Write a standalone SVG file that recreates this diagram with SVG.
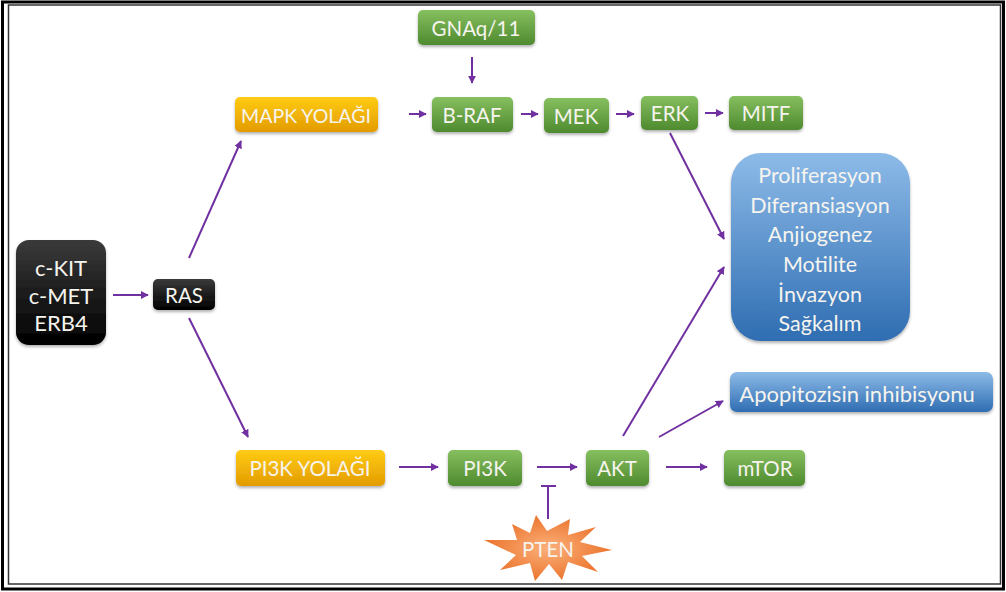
<svg xmlns="http://www.w3.org/2000/svg" width="1006" height="592" viewBox="0 0 1006 592">
<style>
.t{font-family:Lato,"Open Sans","Liberation Sans",sans-serif;fill:#f6f4ee;text-anchor:middle;dominant-baseline:central}
.s18{font-size:20.5px}
.s20{font-size:21.5px}
.s22{font-size:22px}
.c{stroke:#7030a0;stroke-width:2;fill:none}
</style>
<defs>
<linearGradient id="gGreen" x1="0" y1="0" x2="0" y2="1"><stop offset="0" stop-color="#86bf5f"/><stop offset="1" stop-color="#4e8a2f"/></linearGradient>
<linearGradient id="gYel" x1="0" y1="0" x2="0" y2="1"><stop offset="0" stop-color="#ffcc14"/><stop offset="1" stop-color="#e39b00"/></linearGradient>
<linearGradient id="gBlk" x1="0" y1="0" x2="0" y2="1"><stop offset="0" stop-color="#3a3a3a"/><stop offset="1" stop-color="#000"/></linearGradient>
<linearGradient id="gBlue" x1="0" y1="0" x2="0" y2="1"><stop offset="0" stop-color="#8dbbe8"/><stop offset="1" stop-color="#2f6db2"/></linearGradient>
<radialGradient id="gOr" cx="0.5" cy="0.5" r="0.6"><stop offset="0" stop-color="#fbb07a"/><stop offset="1" stop-color="#e8691f"/></radialGradient>
<filter id="sh" x="-10%" y="-10%" width="120%" height="130%"><feDropShadow dx="0" dy="2" stdDeviation="1.5" flood-color="#000" flood-opacity="0.3"/></filter>
<marker id="ar" viewBox="0 0 10 10" refX="9" refY="5" markerWidth="4" markerHeight="4" orient="auto" markerUnits="strokeWidth"><path d="M0,0 L10,5 L0,10 z" fill="#7030a0"/></marker>
</defs>
<rect x="0" y="0" width="1006" height="592" fill="#fff"/>
<rect x="2.5" y="2" width="1001" height="587" fill="none" stroke="#000" stroke-width="3"/>
<rect x="8.5" y="5" width="992" height="579" fill="none" stroke="#333" stroke-width="1.5"/>

<g id="connectors">
<line class="c" x1="113" y1="295" x2="148" y2="295" marker-end="url(#ar)"/>
<line class="c" x1="189" y1="258" x2="241" y2="141" marker-end="url(#ar)"/>
<line class="c" x1="189" y1="318" x2="248" y2="437" marker-end="url(#ar)"/>
<line class="c" x1="472" y1="57" x2="472" y2="83" marker-end="url(#ar)"/>
<line class="c" x1="409" y1="114" x2="426" y2="114" marker-end="url(#ar)"/>
<line class="c" x1="521" y1="114" x2="538" y2="114" marker-end="url(#ar)"/>
<line class="c" x1="616" y1="114" x2="634" y2="114" marker-end="url(#ar)"/>
<line class="c" x1="705" y1="113" x2="723" y2="113" marker-end="url(#ar)"/>
<line class="c" x1="670" y1="133" x2="724" y2="239" marker-end="url(#ar)"/>
<line class="c" x1="623" y1="436" x2="724" y2="267" marker-end="url(#ar)"/>
<line class="c" x1="659" y1="437" x2="723" y2="401" marker-end="url(#ar)"/>
<line class="c" x1="399" y1="467" x2="438" y2="467" marker-end="url(#ar)"/>
<line class="c" x1="537" y1="467" x2="577" y2="467" marker-end="url(#ar)"/>
<line class="c" x1="666" y1="467" x2="707" y2="467" marker-end="url(#ar)"/>
<line class="c" x1="548" y1="519" x2="548" y2="486"/>
<line class="c" x1="541" y1="486" x2="556" y2="486"/>
</g>

<g id="n-ckit"><rect x="16" y="240" width="90" height="105" rx="13" fill="url(#gBlk)" filter="url(#sh)"/>
<text class="t s22" x="61" y="267">c-KIT</text><text class="t s22" x="61" y="295">c-MET</text><text class="t s22" x="61" y="322">ERB4</text></g>
<g id="n-ras"><rect x="153" y="279" width="62" height="31" rx="5" fill="url(#gBlk)" filter="url(#sh)"/><text class="t s18" x="184" y="295">RAS</text></g>

<g id="n-gnaq"><rect x="418" y="10" width="117" height="35" rx="5" fill="url(#gGreen)" filter="url(#sh)"/><text class="t s18" x="476" y="28">GNAq/11</text></g>
<g id="n-mapk"><rect x="235" y="97" width="143" height="35" rx="5" fill="url(#gYel)" filter="url(#sh)"/><text class="t" style="font-size:19.5px" x="306" y="115">MAPK YOLAĞI</text></g>
<g id="n-braf"><rect x="432" y="97" width="81" height="35" rx="5" fill="url(#gGreen)" filter="url(#sh)"/><text class="t s18" x="472" y="115">B-RAF</text></g>
<g id="n-mek"><rect x="544" y="98" width="65" height="35" rx="5" fill="url(#gGreen)" filter="url(#sh)"/><text class="t s18" x="576" y="116">MEK</text></g>
<g id="n-erk"><rect x="641" y="96" width="57" height="34" rx="5" fill="url(#gGreen)" filter="url(#sh)"/><text class="t s18" x="670" y="113">ERK</text></g>
<g id="n-mitf"><rect x="729" y="96" width="74" height="34" rx="5" fill="url(#gGreen)" filter="url(#sh)"/><text class="t s18" x="766" y="113">MITF</text></g>

<g id="n-effects"><rect x="731" y="153" width="179" height="188" rx="30" fill="url(#gBlue)" filter="url(#sh)"/>
<text class="t s20" x="820" y="175">Proliferasyon</text>
<text class="t s20" x="820" y="205">Diferansiasyon</text>
<text class="t s20" x="820" y="234">Anjiogenez</text>
<text class="t s20" x="820" y="264">Motilite</text>
<text class="t s20" x="820" y="294">İnvazyon</text>
<text class="t s20" x="820" y="323">Sağkalım</text></g>
<g id="n-apop"><rect x="730" y="372" width="263" height="40" rx="7" fill="url(#gBlue)" filter="url(#sh)"/><text class="t s22" x="857" y="393">Apopitozisin inhibisyonu</text></g>

<g id="n-pi3ky"><rect x="236" y="450" width="149" height="36" rx="5" fill="url(#gYel)" filter="url(#sh)"/><text class="t s18" x="310" y="468">PI3K YOLAĞI</text></g>
<g id="n-pi3k"><rect x="448" y="450" width="74" height="36" rx="5" fill="url(#gGreen)" filter="url(#sh)"/><text class="t s18" x="485" y="468">PI3K</text></g>
<g id="n-akt"><rect x="586" y="450" width="63" height="36" rx="5" fill="url(#gGreen)" filter="url(#sh)"/><text class="t s18" x="617" y="468">AKT</text></g>
<g id="n-mtor"><rect x="724" y="450" width="81" height="36" rx="5" fill="url(#gGreen)" filter="url(#sh)"/><text class="t s18" x="765" y="468">mTOR</text></g>

<g id="n-pten"><polygon points="484,540 517,540 512,524 530,533 536,515 547,531 570,519 568,535 596,527 580,542 612,550 582,556 598,572 568,562 562,580 549,564 535,581 530,563 500,570 516,555" fill="url(#gOr)"/>
<text class="t s18" x="548" y="549">PTEN</text></g>
</svg>
